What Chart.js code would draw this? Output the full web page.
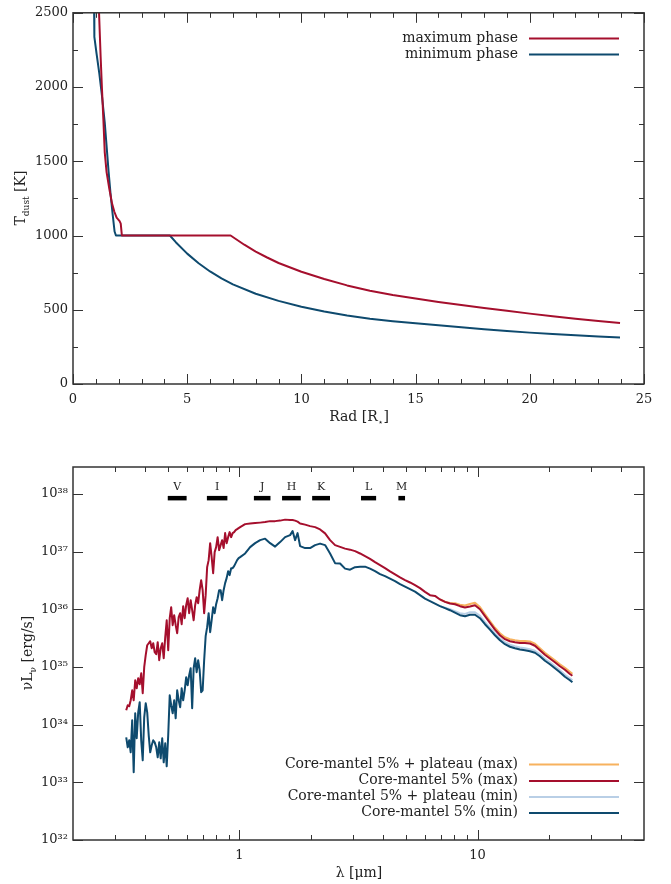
<!DOCTYPE html>
<html><head><meta charset="utf-8">
<script src="https://cdn.jsdelivr.net/npm/chart.js@4.4.1/dist/chart.umd.min.js"></script>
<style>
html,body{margin:0;padding:0;background:#fff;}
#wrap{position:relative;width:671px;height:884px;overflow:hidden;}
canvas{position:absolute;left:0;}
#c1{top:0;} #c2{top:440px;}
</style></head><body>
<div id="wrap"><canvas id="c1" width="671" height="440"></canvas><canvas id="c2" width="671" height="444"></canvas></div>
<script>
// ---------- Top panel: dust temperature vs radius ----------
const radiusMax = [1.12,1.14,1.21,1.27,1.33,1.39,1.47,1.59,1.71,1.81,1.91,2.04,2.09,2.14,3.0,4.0,5.0,6.0,6.9,7.5,8.0,8.5,9.0,10,11,12,13,14,15,16,17,18,19,20,21,22,23,23.95];
const tempMax   = [2600,2500,2204,1982,1782,1560,1427,1315,1215,1160,1120,1097,1080,1000,1000,1000,1000,1000,1000,938,892,852,815,756,707,664,628,600,576,553,532,512,494,474,457,440,425,411];
const radiusMin = [0.92,0.93,0.94,1.03,1.15,1.27,1.39,1.47,1.56,1.65,1.74,1.82,1.88,3.0,4.24,4.5,5.0,5.5,6.0,6.5,7.0,8.0,9.0,10,11,12,13,14,15,16,17,18,19,20,21,22,23,23.95];
const tempMin   = [2600,2500,2338,2227,2093,1938,1760,1604,1427,1271,1138,1027,1000,1000,1000,955,878,813,758,711,671,608,560,520,488,462,440,423,409,395,382,369,357,346,336,328,320,313];
const topSeriesNames = ['maximum phase','minimum phase'];
const radiusTicks = [0,5,10,15,20,25];
const tempTicks = [0,500,1000,1500,2000,2500];

// ---------- Bottom panel: spectral energy distribution ----------
const wavelength = [
0.3346,0.3395,0.3444,0.3494,0.3545,0.3597,0.3650,0.3703,0.3757,0.3812,
0.3868,0.3925,0.3982,0.4040,0.4099,0.4159,0.4220,0.4281,0.4344,0.4407,
0.4472,0.4537,0.4604,0.4671,0.4739,0.4808,0.4879,0.4950,0.5022,0.5096,
0.5168,0.5244,0.5320,0.5398,0.5477,0.5557,0.5638,0.5720,0.5804,0.5888,
0.5974,0.6061,0.6150,0.6240,0.6331,0.6423,0.6517,0.6612,0.6709,0.6807,
0.6906,0.7007,0.7109,0.7213,0.7318,0.7425,0.7534,0.7644,0.7755,0.7869,
0.7982,0.8099,0.8217,0.8337,0.8459,0.8582,0.8708,0.8835,0.8964,0.9095,
0.9229,0.9364,0.9500,0.9639,0.9780,0.9923,1.0068,
1.0566,1.1089,1.1638,1.2214,1.2818,1.3453,1.4119,1.4818,1.5551,1.6321,
1.6720,1.7129,1.7548,
1.7977,1.8867,1.9801,2.0781,2.1810,2.2890,2.4022,2.5211,2.6459,2.7769,
2.9144,3.0587,3.2101,3.3690,3.5357,3.7107,3.8944,4.0872,4.2895,4.5018,
4.7247,4.9586,5.2041,5.4617,5.7320,6.0157,6.3135,6.6260,6.954,7.2983,
7.6596,8.0387,8.4367,8.8543,9.2926,9.7526,10.235,10.742,11.274,11.831,
12.417,13.032,13.677,14.354,15.065,15.811,16.593,17.415,18.277,19.182,
20.131,21.128,22.173,23.271,24.423,25.02];
// log10 of nu*L_nu [erg/s]
const logLumMax = [
34.250,34.337,34.319,34.424,34.597,34.424,34.771,34.632,34.806,34.701,
34.892,34.545,34.997,35.205,35.378,35.413,35.448,35.326,35.413,35.257,
35.222,35.431,35.118,35.326,35.413,35.153,35.517,35.812,35.292,35.847,
36.038,35.726,35.899,35.726,35.587,35.865,35.934,35.743,36.056,35.847,
36.073,36.194,35.934,36.160,35.986,35.812,36.073,36.212,36.108,36.333,
36.507,36.333,35.934,36.247,36.733,36.854,37.149,36.906,36.628,36.993,
37.080,37.253,37.028,37.115,37.201,37.063,37.323,37.149,37.253,37.340,
37.253,37.323,37.340,37.375,37.392,37.410,37.427,
37.479,37.488,37.497,37.505,37.514,37.531,37.531,37.540,37.557,37.549,
37.549,37.540,37.523,
37.491,37.470,37.444,37.427,37.387,37.318,37.201,37.115,37.085,37.054,
37.036,37.010,36.970,36.924,36.877,36.819,36.767,36.715,36.658,36.606,
36.554,36.507,36.467,36.420,36.368,36.304,36.247,36.234,36.172,36.130,
36.102,36.090,36.056,36.033,36.050,36.073,36.003,35.882,35.766,35.648,
35.552,35.483,35.448,35.431,35.418,35.418,35.408,35.370,35.292,35.214,
35.148,35.083,35.014,34.953,34.880,34.849];
const logLumMin = [
33.781,33.608,33.729,33.521,34.076,33.174,34.198,33.764,34.215,34.389,
33.729,33.382,34.128,34.372,34.215,33.816,33.521,33.642,33.729,33.694,
33.608,33.434,33.694,33.417,33.764,33.347,33.677,33.278,33.816,34.510,
34.337,34.198,34.424,34.111,34.597,34.424,34.302,34.632,34.424,34.597,
34.823,34.684,34.858,34.979,34.285,34.979,35.153,34.910,35.118,34.944,
34.563,34.597,35.118,35.535,35.691,35.934,35.604,35.812,36.038,35.934,
36.090,36.194,36.333,36.333,36.160,36.333,36.455,36.542,36.663,36.594,
36.715,36.715,36.750,36.802,36.854,36.889,36.906,
36.970,37.080,37.149,37.201,37.227,37.149,37.089,37.167,37.253,37.288,
37.358,37.201,37.323,
37.097,37.063,37.063,37.115,37.141,37.115,36.970,36.802,36.797,36.707,
36.689,36.733,36.741,36.741,36.707,36.663,36.611,36.576,36.533,36.490,
36.438,36.394,36.351,36.307,36.247,36.186,36.142,36.099,36.056,36.021,
35.986,35.943,35.899,35.882,35.908,35.908,35.847,35.743,35.648,35.552,
35.465,35.396,35.352,35.326,35.304,35.292,35.274,35.248,35.188,35.109,
35.049,34.979,34.910,34.832,34.771,34.736];
const wavelengthPlateau = [6.954,7.2983,7.6596,8.0387,8.4367,8.8543,9.2926,9.7526,10.235,10.742,11.274,11.831,12.417,13.032,13.677,14.354,15.065,15.811,16.593,17.415,18.277,19.182,20.131,21.128,22.173,23.271,24.423,25.02];
const logLumPlateauMax = [36.172,36.134,36.111,36.108,36.082,36.068,36.094,36.115,36.042,35.917,35.799,35.682,35.587,35.517,35.483,35.465,35.453,35.453,35.443,35.405,35.326,35.248,35.182,35.118,35.049,34.988,34.918,34.884];
const logLumPlateauMin = [36.056,36.030,36.003,35.969,35.934,35.922,35.951,35.951,35.887,35.778,35.682,35.587,35.500,35.431,35.387,35.361,35.339,35.326,35.309,35.283,35.222,35.144,35.083,35.014,34.944,34.866,34.806,34.771];
const sedSeriesNames = ['Core-mantel 5% + plateau (max)','Core-mantel 5% (max)','Core-mantel 5% + plateau (min)','Core-mantel 5% (min)'];
const bandNames = ['V','I','J','H','K','L','M'];
const bandStart = [0.50,0.73,1.15,1.51,2.02,3.24,4.65];
const bandEnd   = [0.60,0.89,1.35,1.81,2.40,3.75,4.96];
const bandLevel = 8.5e37;
const lamTicks = [1,10];
const lumTickExps = [32,33,34,35,36,37,38];

// ---------- styling ----------
const SERIF = "'DejaVu Serif', 'DejaVu Sans', serif";
const RED = '#a50f2d', BLUE = '#0e4a6e', ORANGE = '#f7b25e', LBLUE = '#b9cfe6';
Chart.defaults.font.family = SERIF;
Chart.defaults.color = '#222';

const SUP = {'0':'⁰','1':'¹','2':'²','3':'³','4':'⁴','5':'⁵','6':'⁶','7':'⁷','8':'⁸','9':'⁹','-':'⁻'};
const toSup = n => String(n).split('').map(c => SUP[c]).join('');

function richText(ctx, parts, x, y, size, rotate) {
  ctx.save();
  ctx.translate(x, y);
  if (rotate) ctx.rotate(-Math.PI / 2);
  const sub = Math.round(size * 0.66);
  const widths = parts.map(p => { ctx.font = (p[1] ? sub : size) + 'px ' + SERIF; return ctx.measureText(p[0]).width; });
  const total = widths.reduce((s, w) => s + w, 0);
  let cx = -total / 2;
  ctx.textAlign = 'left'; ctx.textBaseline = 'alphabetic'; ctx.fillStyle = '#222';
  parts.forEach((p, i) => {
    ctx.font = (p[1] ? sub : size) + 'px ' + SERIF;
    ctx.fillText(p[0], cx, size * 0.36 + (p[1] === 'sub' ? size * 0.27 : 0));
    cx += widths[i];
  });
  ctx.restore();
}

const decor = {
  id: 'decor',
  afterDatasetsDraw(chart) {
    const o = chart.options.plugins.decor; if (!o) return;
    const ctx = chart.ctx, a = chart.chartArea, xs = chart.scales.x, ys = chart.scales.y;
    ctx.save();
    ctx.strokeStyle = '#333'; ctx.lineWidth = 1;
    ctx.beginPath();
    const tx = (v, len) => { const p = Math.round(xs.getPixelForValue(v)) + 0.5; ctx.moveTo(p, a.bottom); ctx.lineTo(p, a.bottom - len); ctx.moveTo(p, a.top); ctx.lineTo(p, a.top + len); };
    const ty = (v, len) => { const p = Math.round(ys.getPixelForValue(v)) + 0.5; ctx.moveTo(a.left, p); ctx.lineTo(a.left + len, p); ctx.moveTo(a.right, p); ctx.lineTo(a.right - len, p); };
    o.xMinor.forEach(v => tx(v, 5)); o.xMajor.forEach(v => tx(v, 10));
    o.yMinor.forEach(v => ty(v, 5)); o.yMajor.forEach(v => ty(v, 10));
    ctx.stroke();
    ctx.lineWidth = 1.5; ctx.strokeStyle = '#333';
    ctx.strokeRect(a.left, a.top, a.right - a.left, a.bottom - a.top);
    // legend
    const L = o.legend;
    ctx.font = '14px ' + SERIF; ctx.textAlign = 'right'; ctx.textBaseline = 'middle';
    L.names.forEach((nm, i) => {
      const y = L.ys[i];
      ctx.fillStyle = '#222'; ctx.fillText(nm, L.textRight, y);
      ctx.strokeStyle = L.colors[i]; ctx.lineWidth = 1.8;
      ctx.beginPath(); ctx.moveTo(L.x1, y + 0.5); ctx.lineTo(L.x2, y + 0.5); ctx.stroke();
    });
    // axis titles
    o.titles.forEach(t => richText(ctx, t.parts, t.x, t.y, 14, t.rotate));
    // band labels
    if (o.bands) {
      ctx.font = '11px ' + SERIF; ctx.textAlign = 'center'; ctx.textBaseline = 'middle'; ctx.fillStyle = '#222';
      const yb = ys.getPixelForValue(bandLevel) - 11;
      bandNames.forEach((b, i) => {
        const xc = (xs.getPixelForValue(bandStart[i]) + xs.getPixelForValue(bandEnd[i])) / 2;
        ctx.fillText(b, xc, yb);
      });
    }
    ctx.restore();
  }
};

function range(a, b, s) { const r = []; for (let v = a; v <= b + 1e-9; v += s) r.push(+v.toFixed(6)); return r; }

const commonOpts = {
  responsive: false, animation: false, events: [],
  elements: { line: { tension: 0, borderJoinStyle: 'round' }, point: { radius: 0 } },
};

// ---------- Top chart ----------
new Chart(document.getElementById('c1'), {
  type: 'scatter',
  data: { datasets: [
    { label: topSeriesNames[0], data: radiusMax.map((r, i) => ({ x: r, y: tempMax[i] })), showLine: true, borderColor: RED, borderWidth: 2, pointRadius: 0, order: 0 },
    { label: topSeriesNames[1], data: radiusMin.map((r, i) => ({ x: r, y: tempMin[i] })), showLine: true, borderColor: BLUE, borderWidth: 2, pointRadius: 0, order: 1 }
  ]},
  options: Object.assign({}, commonOpts, {
    layout: { padding: { top: 10, right: 27, left: 0, bottom: 0 } },
    scales: {
      x: { type: 'linear', min: 0, max: 25,
        afterBuildTicks: s => { s.ticks = radiusTicks.map(v => ({ value: v })); },
        afterFit: s => { s.height = 56; },
        ticks: { callback: v => String(v), padding: 8, font: { size: 13 }, color: '#222', maxRotation: 0, autoSkip: false },
        grid: { display: false, drawTicks: false }, border: { display: false } },
      y: { type: 'linear', min: 0, max: 2500,
        afterBuildTicks: s => { s.ticks = tempTicks.map(v => ({ value: v })); },
        afterFit: s => { s.width = 73; },
        ticks: { callback: v => String(v), padding: 5, font: { size: 13 }, color: '#222', autoSkip: false },
        grid: { display: false, drawTicks: false }, border: { display: false } }
    },
    plugins: {
      legend: { display: false }, tooltip: { enabled: false },
      decor: {
        xMajor: radiusTicks, xMinor: range(0, 25, 1), yMajor: tempTicks, yMinor: range(0, 2500, 250),
        legend: { names: topSeriesNames, colors: [RED, BLUE], ys: [38, 54], textRight: 518, x1: 529, x2: 619 },
        titles: [
          { parts: [['Rad [R'], ['⋆', 'sub'], [']']], x: 359, y: 416, rotate: false },
          { parts: [['T'], ['dust', 'sub'], [' [K]']], x: 20, y: 198, rotate: true }
        ]
      }
    }
  }),
  plugins: [decor]
});

// ---------- Bottom chart ----------
const toPts = (lam, lg) => lam.map((l, i) => ({ x: l, y: Math.pow(10, lg[i]) }));
const bandSets = bandNames.map((b, i) => ({
  label: 'band ' + b, data: [{ x: bandStart[i], y: bandLevel }, { x: bandEnd[i], y: bandLevel }],
  showLine: true, borderColor: '#000', borderWidth: 4.5, borderCapStyle: 'butt', pointRadius: 0, order: 5
}));
new Chart(document.getElementById('c2'), {
  type: 'scatter',
  data: { datasets: [
    { label: sedSeriesNames[0], data: toPts(wavelengthPlateau, logLumPlateauMax), showLine: true, borderColor: ORANGE, borderWidth: 2, pointRadius: 0, order: 2 },
    { label: sedSeriesNames[1], data: toPts(wavelength, logLumMax), showLine: true, borderColor: RED, borderWidth: 2, pointRadius: 0, order: 0 },
    { label: sedSeriesNames[2], data: toPts(wavelengthPlateau, logLumPlateauMin), showLine: true, borderColor: LBLUE, borderWidth: 2, pointRadius: 0, order: 3 },
    { label: sedSeriesNames[3], data: toPts(wavelength, logLumMin), showLine: true, borderColor: BLUE, borderWidth: 2, pointRadius: 0, order: 1 }
  ].concat(bandSets) },
  options: Object.assign({}, commonOpts, {
    layout: { padding: { top: 27, right: 27, left: 0, bottom: 0 } },
    scales: {
      x: { type: 'logarithmic', min: 0.2, max: 50,
        afterBuildTicks: s => { s.ticks = lamTicks.map(v => ({ value: v })); },
        afterFit: s => { s.height = 44; },
        ticks: { callback: v => String(v), padding: 8, font: { size: 13 }, color: '#222', maxRotation: 0, autoSkip: false },
        grid: { display: false, drawTicks: false }, border: { display: false } },
      y: { type: 'logarithmic', min: 1e32, max: 2.95e38,
        afterBuildTicks: s => { s.ticks = lumTickExps.map(e => ({ value: Math.pow(10, e) })); },
        afterFit: s => { s.width = 73; },
        ticks: { callback: v => '10' + toSup(Math.round(Math.log10(v))), padding: 5, font: { size: 13 }, color: '#222', autoSkip: false },
        grid: { display: false, drawTicks: false }, border: { display: false } }
    },
    plugins: {
      legend: { display: false }, tooltip: { enabled: false },
      decor: {
        xMajor: lamTicks, xMinor: [0.3,0.4,0.5,0.6,0.7,0.8,0.9,2,3,4,5,6,7,8,9,20,30,40],
        yMajor: lumTickExps.map(e => Math.pow(10, e)), yMinor: [],
        legend: { names: sedSeriesNames, colors: [ORANGE, RED, LBLUE, BLUE], ys: [324, 340.5, 356.5, 372.5], textRight: 518, x1: 529, x2: 619 },
        titles: [
          { parts: [['λ [μm]']], x: 359, y: 432, rotate: false },
          { parts: [['νL'], ['ν', 'sub'], [' [erg/s]']], x: 27, y: 213, rotate: true }
        ],
        bands: true
      }
    }
  }),
  plugins: [decor]
});
</script>
</body></html>
